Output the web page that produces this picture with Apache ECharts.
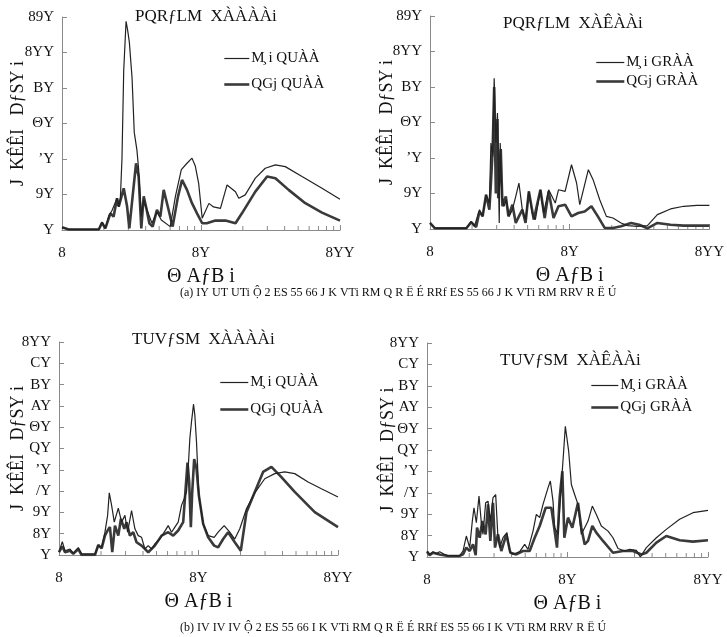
<!DOCTYPE html>
<html><head><meta charset="utf-8">
<script src="https://cdn.jsdelivr.net/npm/echarts@6/dist/echarts.min.js"></script>
<style>html,body{margin:0;padding:0;background:#fff}#c{width:727px;height:637px}</style>
</head><body><div id="c"></div>
<script>
// ---- data ----
const xTickVals = [1, 10, 100];
const xTickText = ['8', '8Y', '8YY'];
const yTickValsA = [0, 20, 40, 60, 80, 100, 120];
const yTickTextA = ['Y', '9Y', 'ʼY', 'ΘY', 'BY', '8YY', '89Y'];
const yTickValsB = [0, 10, 20, 30, 40, 50, 60, 70, 80, 90, 100];
const yTickTextB = ['Y', '8Y', '9Y', '/Y', 'ʼY', 'QY', 'ΘY', 'AY', 'BY', 'CY', '8YY'];
const minorTickVals = [2,3,4,5,6,7,8,9,20,30,40,50,60,70,80,90];

const titles = ['PQRƒLM  XÀÀÀÀi', 'PQRƒLM  XÀÊÀÀi', 'TUVƒSM  XÀÀÀÀi', 'TUVƒSM  XÀÊÀÀi'];
const thinNames = ['M̧ i QUÀÀ', 'M̧ i GRÀÀ', 'M̧ i QUÀÀ', 'M̧ i GRÀÀ'];
const thickNames = ['QGj QUÀÀ', 'QGj GRÀÀ', 'QGj QUÀÀ', 'QGj GRÀÀ'];
const xName = 'Θ AƒB i';
const yName = 'J  KÊÊI   DƒSY i';
const captionA = '(a) IY UT UTi Ộ 2 ES 55 66 J K VTi RM Q R Ë É RRf ES 55 66 J K VTi RM RRV R Ë Ú';
const captionB = '(b) IV IV IV Ộ 2 ES 55 66 I K VTi RM Q R Ë É RRf ES 55 66 I K VTi RM RRV R Ë Ú';

const thinA1 = [[1,1.5],[1.12,0.3],[1.84,0.3],[1.94,4.5],[2.05,0.8],[2.17,8],[2.29,11],[2.49,17.9],[2.56,13],[2.63,18],[2.70,40],[2.78,90],[2.89,117.6],[2.96,113],[3.05,106],[3.19,86],[3.31,55],[3.46,45],[3.56,34],[3.72,7.5],[3.87,17],[4.09,11.3],[4.44,3.8],[4.82,10.3],[5.18,5.6],[6.01,1.9],[6.54,18.8],[7.22,34],[7.93,37.6],[8.61,40.5],[9.10,36],[9.62,26.3],[10.2,6.6],[11.4,15],[12.3,13],[13.8,12.2],[15.4,25.4],[17.7,21.6],[18.7,17.9],[20.8,19.8],[24.6,29.2],[29.0,34.8],[34.3,36.7],[40.4,35.7],[53.3,30.1],[74.2,23.5],[100,17.3]];
const thickA1 = [[1,1.5],[1.12,0.3],[1.84,0.3],[1.94,4.1],[2.05,0.9],[2.23,9.4],[2.35,7.5],[2.49,17.9],[2.56,13.2],[2.78,23.5],[2.94,13.2],[3.05,0.9],[3.22,18.8],[3.41,37.6],[3.56,30],[3.72,0.9],[3.87,19],[4.02,13.2],[4.25,3.8],[4.49,1.9],[4.82,11.3],[5.10,7.5],[5.39,22.6],[5.85,11.3],[6.25,1.9],[6.83,18.8],[7.30,28.2],[7.93,22.6],[8.61,15.1],[9.36,9.4],[10.2,3.8],[11.0,3.8],[12.7,5.3],[15.0,5.3],[17.7,3.8],[19.7,9.4],[24.6,21.6],[29.9,30.1],[34.3,29.2],[42.7,22.6],[56.3,15.1],[74.2,9.8],[100,5.3]];
const thinA2 = [[1,3.4],[1.085,0.4],[1.82,0.4],[1.97,4.3],[2.08,1.5],[2.26,10.9],[2.38,7.1],[2.52,19.3],[2.66,14.6],[2.73,48.4],[2.81,40.9],[2.88,84.9],[2.96,48.4],[3.04,65.3],[3.13,3.4],[3.18,48.4],[3.27,18.4],[3.39,12.8],[3.52,16.5],[3.68,7.1],[3.89,10.9],[4.11,18.4],[4.33,25.9],[4.58,10.9],[4.83,5.3],[5.10,21.2],[5.38,9.0],[5.68,5.3],[6.17,22.1],[6.51,9.0],[7.07,22.1],[7.46,18.4],[7.88,14.6],[8.31,22.1],[9.27,21.2],[10.3,36.2],[11.2,25.9],[11.8,13.7],[13.6,33.4],[14.7,27.8],[16.4,16.5],[18.3,7.1],[20.4,6.2],[23.3,3.4],[26.0,1.9],[30.6,1.5],[36.0,1.9],[42.4,8.1],[52.7,11.3],[65.5,12.8],[81.3,13.3],[100,13.3]];
const thickA2 = [[1,3.4],[1.085,0.4],[1.82,0.4],[1.97,3.8],[2.14,1.1],[2.26,9.9],[2.38,7.1],[2.52,19.3],[2.66,10.9],[2.73,25.9],[2.81,45],[2.88,80],[2.96,20],[3.04,62],[3.08,17.4],[3.21,45],[3.30,12.8],[3.49,18.4],[3.64,7.1],[3.89,13.7],[4.11,3.4],[4.33,7.1],[4.58,10.9],[4.83,3.4],[5.10,21.2],[5.53,5.3],[6.17,22.1],[6.62,6.2],[7.07,21.2],[7.66,6.2],[8.31,12.8],[9.27,13.7],[10.3,7.1],[11.5,9.0],[12.8,9.9],[14.3,12.8],[15.9,7.1],[17.8,0.6],[20.4,0.6],[23.3,1.5],[27.5,3.4],[31.4,2.4],[36.0,0.4],[42.4,3.4],[52.7,2.4],[65.5,1.9],[81.3,1.9],[100,1.9]];
const thinB1 = [[1,1.3],[1.056,6.3],[1.104,2.0],[1.199,2.8],[1.266,0.9],[1.375,3.5],[1.453,0.5],[1.81,0.5],[1.912,4.4],[2.021,3.6],[2.135,10.7],[2.231,18.6],[2.293,29.2],[2.383,23.3],[2.49,15.4],[2.661,22.0],[2.811,15.4],[2.969,18.6],[3.103,10.7],[3.313,20.9],[3.5,12.3],[3.698,9.1],[3.907,8.3],[4.128,2.8],[4.362,4.4],[4.608,2.8],[4.868,5.2],[5.287,7.5],[5.585,9.9],[6.065,13.8],[6.409,10.7],[6.77,13.1],[7.152,15.4],[7.556,23.3],[7.896,26.4],[8.206,29.6],[8.433,40.6],[8.669,54.7],[8.911,62.6],[9.21,70.8],[9.413,65.7],[9.676,53.1],[10.06,28.0],[10.8,14.6],[11.73,9.1],[12.95,8.3],[13.83,10.7],[15.27,13.8],[16.76,10.7],[18.2,7.5],[19.77,12.3],[22.07,21.7],[25.32,29.2],[29.85,35.8],[35.2,38.2],[41.5,39.0],[48.95,38.2],[61.0,34.3],[76.0,31.1],[100,27.2]];
const thickB1 = [[1,1.3],[1.056,4.1],[1.104,1.3],[1.199,2.0],[1.266,0.5],[1.375,2.8],[1.453,0],[1.81,0],[1.912,4.7],[2.021,3.1],[2.135,9.1],[2.231,11.5],[2.318,13.1],[2.409,1.3],[2.518,13.8],[2.661,9.1],[2.78,17.0],[2.937,12.3],[3.052,15.4],[3.223,9.1],[3.405,10.7],[3.597,6.0],[3.907,4.4],[4.362,1.3],[4.868,4.4],[5.434,9.1],[6.065,10.7],[6.587,9.1],[7.152,11.5],[7.767,15.4],[8.342,43.4],[8.574,34.3],[8.812,13.1],[9.01,29.2],[9.311,45.0],[9.676,40.6],[10.06,28.0],[10.8,14.6],[11.73,8.3],[12.95,4.4],[13.83,3.6],[15.02,7.5],[16.31,10.7],[18.2,6.0],[20.1,2.0],[22.07,20.1],[25.32,29.6],[29.04,39.0],[33.32,41.4],[39.29,36.6],[48.95,29.6],[68.1,20.1],[100,13.1]];
const thinB2 = [[1,2.8],[1.045,1.2],[1.103,2.5],[1.165,1.6],[1.231,2.5],[1.336,1.2],[1.411,0.6],[1.708,0.6],[1.804,2.8],[1.905,9.8],[2.012,4.4],[2.102,16.8],[2.16,23.0],[2.245,16.0],[2.345,28.5],[2.436,16.0],[2.503,10.6],[2.615,25.3],[2.718,26.1],[2.824,16.8],[2.95,27.7],[3.082,29.2],[3.2,9.0],[3.289,4.4],[3.475,9.0],[3.71,11.4],[3.876,2.8],[4.094,1.2],[4.566,2.5],[4.958,5.9],[5.235,3.6],[5.682,12.1],[6.0,19.9],[6.338,18.4],[6.694,24.6],[7.266,32.3],[7.549,35.5],[7.886,26.1],[8.104,13.7],[8.558,10.6],[9.039,33.9],[9.391,49.5],[9.651,61.1],[9.918,60.3],[10.19,49.5],[10.65,33.9],[11.24,29.2],[11.88,24.6],[12.54,10.6],[13.25,13.7],[14.0,16.8],[15.02,23.8],[16.04,19.9],[17.41,14.5],[19.43,12.1],[21.08,9.0],[22.88,4.0],[25.52,2.8],[27.7,3.6],[30.9,3.1],[33.0,0],[36.4,4.4],[42.9,9.0],[50.5,12.9],[62.8,17.6],[78.2,20.7],[100,21.8]];
const thickB2 = [[1,2.5],[1.045,0.9],[1.103,2.0],[1.231,1.2],[1.411,0.5],[1.708,0.5],[1.804,1.2],[1.905,4.4],[2.012,2.8],[2.125,5.9],[2.221,0.9],[2.27,13.7],[2.371,9.0],[2.476,16.8],[2.615,10.6],[2.718,24.6],[2.824,7.5],[2.95,25.3],[3.048,4.4],[3.2,10.6],[3.38,2.8],[3.67,10.6],[3.919,2.0],[4.324,1.2],[4.824,2.8],[5.379,2.8],[5.84,9.0],[6.338,14.5],[6.993,23.0],[7.673,23.0],[8.104,12.1],[8.42,4.4],[8.795,27.7],[9.19,40.1],[9.494,9.0],[10.08,18.4],[10.82,13.7],[11.88,25.3],[12.54,13.7],[13.25,5.9],[14.0,7.5],[15.02,14.5],[16.04,11.4],[17.89,7.5],[21.08,2.0],[24.83,2.8],[29.25,2.8],[33.55,1.2],[36.4,2.0],[42.9,6.7],[50.5,9.8],[62.8,7.8],[78.2,7.2],[100,7.8]];

// ---- layout ----
const FONT = 'Liberation Serif';
const THIN = {color: '#222', width: 1.2};
const THICK = {color: '#3a3a3a', width: 2.6};
const grids = [
  {left: 62, top: 17, width: 278, height: 213},
  {left: 430, top: 16, width: 283, height: 213},
  {left: 59, top: 342, width: 279, height: 213},
  {left: 427, top: 343, width: 281, height: 214}
];
const panels = [
  {thin: thinA1, thick: thickA1, yMax: 120, yInt: 20, yv: yTickValsA, yt: yTickTextA, yGap: 35, title: {left: 135, top: 8}, legend: {left: 223, top: 51, h: 14, gap: 11, w: 25}},
  {thin: thinA2, thick: thickA2, yMax: 120, yInt: 20, yv: yTickValsA, yt: yTickTextA, yGap: 34, title: {left: 503, top: 15}, legend: {left: 595, top: 55, h: 12, gap: 4, w: 28}},
  {thin: thinB1, thick: thickB1, yMax: 100, yInt: 10, yv: yTickValsB, yt: yTickTextB, yGap: 32, title: {left: 132, top: 331}, legend: {left: 219, top: 375, h: 14, gap: 12, w: 28}},
  {thin: thinB2, thick: thickB2, yMax: 100, yInt: 10, yv: yTickValsB, yt: yTickTextB, yGap: 30, title: {left: 500, top: 352}, legend: {left: 590, top: 378, h: 14, gap: 7, w: 27}}
];
const AX = '#8a8a8a';
const option = {
  animation: false,
  backgroundColor: '#fff',
  grid: grids,
  title: panels.map((p, i) => ({text: titles[i], left: p.title.left, top: p.title.top, padding: 0,
    textStyle: {fontFamily: FONT, fontSize: 17, fontWeight: 'normal', color: '#111'}})),
  legend: panels.map((p, i) => ({
    data: [{name: thinNames[i], lineStyle: {width: THIN.width, color: THIN.color}},
           {name: thickNames[i], lineStyle: {width: THICK.width, color: THICK.color}}],
    orient: 'vertical', left: p.legend.left, top: p.legend.top,
    itemWidth: p.legend.w, itemHeight: p.legend.h, itemGap: p.legend.gap, padding: 0, selectedMode: false,
    itemStyle: {opacity: 0},
    textStyle: {fontFamily: FONT, fontSize: 15, color: '#111', padding: [0, 0, 0, -3]}
  })),
  xAxis: grids.map((g, i) => ({
    type: 'log', logBase: 10, min: 1, max: 100, gridIndex: i,
    name: xName, nameLocation: 'middle', nameGap: 37, nameMoveOverlap: false,
    nameTextStyle: {fontFamily: FONT, fontSize: 20, color: '#111'},
    axisLine: {lineStyle: {color: AX, width: 1}},
    axisTick: {inside: true, length: 5, lineStyle: {color: AX}},
    axisLabel: {margin: 16, fontFamily: FONT, fontSize: 15, color: '#111',
      formatter: v => { const k = xTickVals.findIndex(t => Math.abs(t - v) < 1e-6); return k >= 0 ? xTickText[k] : ''; }},
    splitLine: {show: false}
  })),
  yAxis: panels.map((p, i) => ({
    type: 'value', min: 0, max: p.yMax, interval: p.yInt, gridIndex: i,
    name: yName, nameLocation: 'middle', nameGap: p.yGap, nameMoveOverlap: false,
    nameTextStyle: {fontFamily: FONT, fontSize: 18, color: '#111'},
    axisLine: {show: true, lineStyle: {color: AX, width: 1}},
    axisTick: {show: true, inside: true, length: 5, lineStyle: {color: AX}},
    axisLabel: {margin: 8, fontFamily: FONT, fontSize: 15, color: '#111',
      formatter: v => { const k = p.yv.indexOf(v); return k >= 0 ? p.yt[k] : ''; }},
    splitLine: {show: false}
  })),
  series: [],
  graphic: [
    {type: 'text', left: 180, top: 287, style: {text: captionA, fontFamily: FONT, fontSize: 12, fill: '#111'}},
    {type: 'text', left: 180, top: 622, style: {text: captionB, fontFamily: FONT, fontSize: 12, fill: '#111'}}
  ]
};
panels.forEach((p, i) => {
  option.series.push({
    name: thinNames[i], type: 'line', xAxisIndex: i, yAxisIndex: i, data: p.thin,
    symbol: 'none', smooth: false, lineStyle: {color: THIN.color, width: THIN.width}, itemStyle: {color: THIN.color}, z: 3
  });
  option.series.push({
    name: thickNames[i], type: 'line', xAxisIndex: i, yAxisIndex: i, data: p.thick,
    symbol: 'none', smooth: false, lineStyle: {color: THICK.color, width: THICK.width}, itemStyle: {color: THICK.color}, z: 2
  });
  option.series.push({
    type: 'custom', xAxisIndex: i, yAxisIndex: i, silent: true, clip: false,
    data: minorTickVals.map(v => [v, 0]),
    renderItem: (params, api) => {
      const pt = api.coord([api.value(0), 0]);
      return {type: 'line', shape: {x1: pt[0], y1: pt[1], x2: pt[0], y2: pt[1] - 4},
        style: {stroke: AX, lineWidth: 1}};
    }
  });
});
const chart = echarts.init(document.getElementById('c'), null, {renderer: 'canvas'});
chart.setOption(option);
</script></body></html>
